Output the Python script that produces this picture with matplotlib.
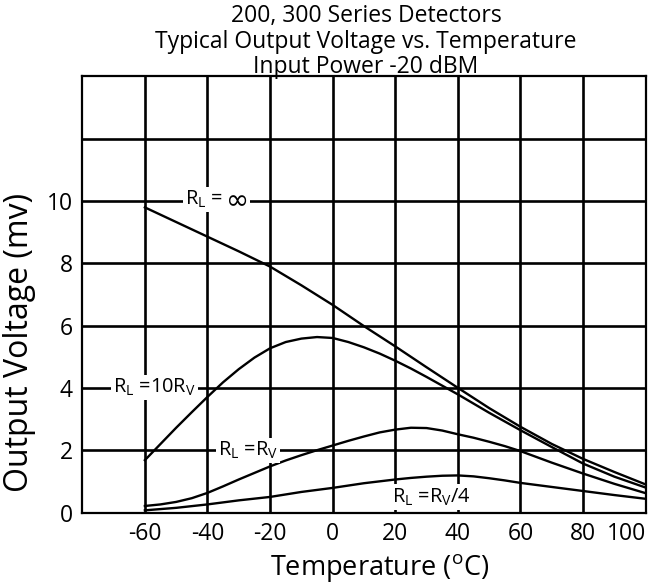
import matplotlib
matplotlib.use("Agg")
import matplotlib.pyplot as plt

# Values (temperature in C, output in mV)
t_inf = [-60, -50, -40, -30, -20, -10, 0, 10, 20, 30, 40, 50, 60, 70, 80, 90, 100]
v_inf = [9.79, 9.32, 8.85, 8.38, 7.89, 7.29, 6.66, 5.98, 5.33, 4.66, 4.00, 3.35, 2.75, 2.20, 1.72, 1.30, 0.90]

t_10rv = [-60, -55, -50, -45, -40, -35, -30, -25, -20, -15, -10, -5, 0, 5, 10, 15, 20, 25, 30, 35, 40,
          50, 60, 70, 80, 90, 100]
v_10rv = [1.68, 2.20, 2.72, 3.22, 3.71, 4.18, 4.60, 4.97, 5.27, 5.47, 5.58, 5.63, 5.60, 5.47, 5.30, 5.10,
          4.87, 4.62, 4.35, 4.07, 3.79, 3.20, 2.64, 2.10, 1.57, 1.15, 0.80]

t_rv = [-60, -55, -50, -45, -40, -35, -30, -25, -20, -15, -10, -5, 0, 5, 10, 15, 20, 25, 30, 35, 40,
        45, 50, 55, 60, 70, 80, 90, 100]
v_rv = [0.21, 0.26, 0.34, 0.46, 0.63, 0.84, 1.06, 1.27, 1.48, 1.67, 1.84, 2.00, 2.15, 2.30, 2.44, 2.57,
        2.66, 2.72, 2.71, 2.63, 2.51, 2.40, 2.27, 2.13, 1.97, 1.60, 1.25, 0.92, 0.62]

t_rv4 = [-60, -50, -40, -30, -20, -10, 0, 10, 20, 25, 30, 35, 40, 45, 50, 55, 60, 70, 80, 90, 100]
v_rv4 = [0.07, 0.15, 0.26, 0.39, 0.50, 0.66, 0.79, 0.94, 1.06, 1.11, 1.15, 1.18, 1.19, 1.16, 1.10, 1.03,
         0.95, 0.82, 0.69, 0.56, 0.44]

x_ticks = [-60, -40, -20, 0, 20, 40, 60, 80, 100]
y_ticks = [0, 2, 4, 6, 8, 10]
title_lines = ["200, 300 Series Detectors",
               "Typical Output Voltage vs. Temperature",
               "Input Power -20 dBM"]

font = "Open Sans"
plt.rcParams["font.family"] = [font, "DejaVu Sans"]
plt.rcParams["mathtext.fontset"] = "custom"
plt.rcParams["mathtext.rm"] = font
plt.rcParams["mathtext.it"] = font

fig = plt.figure(figsize=(6.54, 5.86), dpi=100)
ax = fig.add_axes([0.1258, 0.1254, 0.8615, 0.7446])

# heavy black grid, drawn by hand
for x in [-60, -40, -20, 0, 20, 40, 60, 80]:
    ax.axvline(x, color="black", lw=1.9, zorder=1)
for y in [2, 4, 6, 8, 10, 12]:
    ax.axhline(y, color="black", lw=1.9, zorder=1)

ax.plot(t_inf, v_inf, color="black", lw=1.7, zorder=3)
ax.plot(t_10rv, v_10rv, color="black", lw=1.7, zorder=3)
ax.plot(t_rv, v_rv, color="black", lw=1.7, zorder=3)
ax.plot(t_rv4, v_rv4, color="black", lw=1.7, zorder=3)

ax.set_xlim(-80, 100)
ax.set_ylim(0, 14)
for sp in ax.spines.values():
    sp.set_linewidth(1.6)
    sp.set_zorder(4)

ax.set_xticks(x_ticks)
ax.set_xticklabels([str(t) for t in x_ticks])
ax.set_yticks(y_ticks)
ax.set_yticklabels([str(t) for t in y_ticks])
ax.tick_params(length=0, labelsize=16.5, pad=7)
ax.get_xticklabels()[-1].set_horizontalalignment("right")

fig.text(380 / 654, 1 - 575 / 586, "Temperature ($^{\\mathrm{o}}$C)", fontsize=19.5,
         ha="center", va="baseline")
fig.text(20 / 654, 1 - 342 / 586, "Output Voltage (mv)", fontsize=23, rotation=90,
         ha="center", va="center")

for i, line in enumerate(title_lines):
    fig.text(366 / 654, 1 - (22 + 25.5 * i) / 586, line, fontsize=16.5,
             ha="center", va="baseline")

box = dict(facecolor="white", edgecolor="none", pad=1.5)
lab_kw = dict(fontsize=14.4, ha="center", va="center", bbox=box, zorder=5)
# R_L = infinity: the infinity sign is drawn larger, as in the original
ax.text(-34.6, 10.05, "R$_\\mathrm{L}$ = ", fontsize=14.4, ha="right", va="center", bbox=box, zorder=5)
ax.text(-34.2, 10, "\u221e", fontsize=20, family="DejaVu Sans", ha="left", va="center",
        bbox=dict(facecolor="white", edgecolor="none", pad=1.2), zorder=5)
ax.text(-57, 4, "R$_\\mathrm{L}$ =10R$_\\mathrm{V}$", **lab_kw)
ax.text(-27, 2, "R$_\\mathrm{L}$ =R$_\\mathrm{V}$", **lab_kw)
ax.text(31.5, 0.5, "R$_\\mathrm{L}$ =R$_\\mathrm{V}$/4", **lab_kw)

fig.savefig("out.png", dpi=100)
